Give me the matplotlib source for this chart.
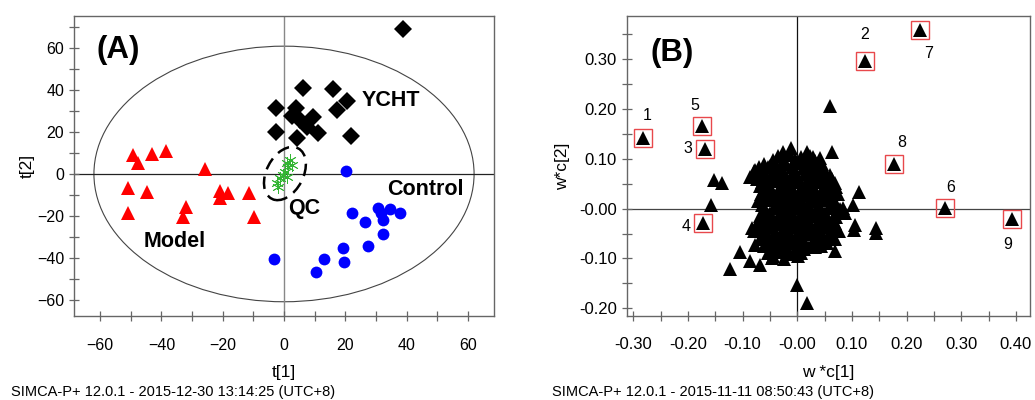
import matplotlib
matplotlib.use('Agg')
import matplotlib.pyplot as plt
from matplotlib.patches import Ellipse
from matplotlib.ticker import MultipleLocator, FuncFormatter

plt.rcParams['font.family'] = ['Liberation Sans', 'DejaVu Sans']

# ---- panel A: scores t[1] / t[2] ----
model_x = [-49.1, -43.1, -38.5, -47.5, -25.8, -50.8, -44.8, -50.8, -32.0, -33.0, -20.9, -18.2, -20.9, -11.4, -9.8]
model_y = [9.1, 9.5, 11.1, 5.1, 2.4, -6.8, -8.4, -18.5, -15.6, -20.7, -8.0, -9.2, -11.6, -8.9, -20.7]

ycht_x = [-2.6, 3.9, 6.1, 15.9, 20.4, 17.4, 9.6, 5.2, -2.6, 4.1, 11.2, 21.7, 2.5, 7.4, 38.9]
ycht_y = [31.7, 31.7, 40.9, 40.4, 34.8, 30.5, 27.1, 25.8, 20.2, 17.0, 19.4, 18.1, 27.5, 22.6, 69.1]

control_x = [20.1, 22.3, 26.4, 30.8, 34.6, 37.8, 32.4, 31.8, 32.4, 27.5, 19.1, 19.6, 13.0, 10.4, -3.3]
control_y = [1.4, -18.8, -22.8, -16.4, -16.9, -18.8, -22.0, -18.8, -28.6, -34.4, -35.2, -41.9, -40.6, -46.6, -40.6]

qc_x = [2.0, 1.4, 0.3, -0.2, -1.3, -2.4, 0.9, 2.5, 1.0, -1.8]
qc_y = [6.7, 3.5, 1.1, -0.5, -2.1, -4.5, 5.1, 4.3, -1.5, -6.0]

# ---- panel B: loadings w*c[1] / w*c[2] ----
marked_id = ['1', '2', '3', '4', '5', '6', '7', '8', '9']
marked_x = [-0.282, 0.124, -0.168, -0.172, -0.175, 0.271, 0.224, 0.177, 0.392]
marked_y = [0.143, 0.297, 0.120, -0.028, 0.166, 0.001, 0.360, 0.089, -0.021]

# scattered variables around the main cloud
outer_x = [0.060, 0.063, -0.152, -0.137, -0.157, 0.112, 0.102, 0.084, 0.106, 0.104, 0.144, 0.144,
           -0.123, -0.105, -0.087, -0.068, -0.077, -0.083, -0.044, 0.002, 0.000, 0.018, 0.032, 0.069,
           0.069, 0.060, -0.087, -0.077, -0.053, -0.038, -0.026, -0.012, 0.017, 0.029, 0.060, 0.069,
           0.035, 0.087, 0.069]
outer_y = [0.206, 0.114, 0.058, 0.051, 0.007, 0.034, 0.007, 0.001, -0.033, -0.043, -0.039, -0.049,
           -0.121, -0.087, -0.106, -0.113, -0.072, -0.039, -0.096, -0.096, -0.154, -0.190, -0.076, -0.086,
           -0.043, 0.038, 0.064, 0.078, 0.084, 0.084, 0.114, 0.121, 0.114, 0.104, 0.068, 0.051,
           0.084, -0.009, -0.029]

# dense core of the loading cloud
core_x = [-0.035, -0.013, 0.006, 0.024, 0.041,
          -0.061, -0.040, -0.021, 0.002, 0.019, 0.046,
          -0.079, -0.062, -0.044, -0.026, -0.004, 0.016, 0.033, 0.051,
          -0.074, -0.056, -0.036, -0.014, 0.004, 0.026, 0.044, 0.064,
          -0.069, -0.051, -0.029, -0.011, 0.011, 0.029, 0.052, 0.071,
          -0.066, -0.044, -0.024, -0.006, 0.016, 0.034, 0.056, 0.074,
          -0.071, -0.049, -0.031, -0.009, 0.009, 0.031, 0.049, 0.069,
          -0.059, -0.041, -0.019, 0.001, 0.021, 0.039, 0.061, 0.079,
          -0.069, -0.051, -0.029, -0.011, 0.011, 0.029, 0.051, 0.071,
          -0.074, -0.054, -0.036, -0.014, 0.006, 0.024, 0.046, 0.064,
          -0.079, -0.059, -0.041, -0.019, 0.001, 0.021, 0.039, 0.059, 0.076,
          -0.069, -0.051, -0.029, -0.009, 0.011, 0.031, 0.049, 0.069,
          -0.061, -0.039, -0.021, 0.001, 0.019, 0.044,
          -0.054, -0.036, -0.014, 0.006,
          -0.046, -0.024]
core_y = [0.105, 0.107, 0.103, 0.106, 0.102,
          0.090, 0.092, 0.089, 0.091, 0.088, 0.090,
          0.075, 0.077, 0.074, 0.076, 0.073, 0.075, 0.077, 0.074,
          0.060, 0.062, 0.059, 0.061, 0.058, 0.060, 0.062, 0.059,
          0.045, 0.047, 0.044, 0.046, 0.043, 0.045, 0.047, 0.044,
          0.030, 0.032, 0.029, 0.031, 0.028, 0.030, 0.032, 0.029,
          0.015, 0.017, 0.014, 0.016, 0.013, 0.015, 0.017, 0.014,
          0.000, 0.002, -0.001, 0.001, -0.002, 0.000, 0.002, -0.001,
          -0.015, -0.013, -0.016, -0.014, -0.017, -0.015, -0.013, -0.016,
          -0.030, -0.028, -0.031, -0.029, -0.032, -0.030, -0.028, -0.031,
          -0.045, -0.043, -0.046, -0.044, -0.047, -0.045, -0.043, -0.046, -0.044,
          -0.060, -0.058, -0.061, -0.059, -0.062, -0.060, -0.058, -0.061,
          -0.075, -0.073, -0.076, -0.074, -0.077, -0.075,
          -0.090, -0.088, -0.091, -0.089,
          -0.100, -0.102]

# second, interleaved layer of the core
fill_x = [-0.045, -0.024, -0.004, 0.014, 0.032,
          -0.070, -0.050, -0.031, -0.010, 0.010, 0.028, 0.042,
          -0.067, -0.046, -0.025, -0.005, 0.014, 0.035, 0.055,
          -0.064, -0.044, -0.025, -0.004, 0.016, 0.035, 0.056,
          -0.057, -0.035, -0.015, 0.005, 0.024, 0.045, 0.064,
          -0.055, -0.035, -0.016, 0.004, 0.025, 0.045, 0.062,
          -0.064, -0.040, -0.020, 0.000, 0.019, 0.040, 0.060,
          -0.050, -0.030, -0.010, 0.010, 0.030, 0.050, 0.070,
          -0.060, -0.040, -0.020, 0.000, 0.020, 0.040, 0.058,
          -0.064, -0.045, -0.025, -0.005, 0.015, 0.035, 0.055,
          -0.060, -0.040, -0.020, 0.000, 0.020, 0.040, 0.060,
          -0.050, -0.030, -0.010, 0.010, 0.030, 0.055,
          -0.045, -0.025, -0.005, 0.012]
fill_y = [0.098, 0.096, 0.099, 0.097, 0.095,
          0.083, 0.085, 0.082, 0.084, 0.081, 0.083, 0.085,
          0.068, 0.066, 0.069, 0.067, 0.070, 0.068, 0.066,
          0.053, 0.055, 0.052, 0.054, 0.051, 0.053, 0.055,
          0.038, 0.036, 0.039, 0.037, 0.040, 0.038, 0.036,
          0.023, 0.025, 0.022, 0.024, 0.021, 0.023, 0.025,
          0.008, 0.006, 0.009, 0.007, 0.010, 0.008, 0.006,
          -0.008, -0.006, -0.009, -0.007, -0.010, -0.008, -0.006,
          -0.023, -0.025, -0.022, -0.024, -0.021, -0.023, -0.025,
          -0.038, -0.036, -0.039, -0.037, -0.040, -0.038, -0.036,
          -0.053, -0.055, -0.052, -0.054, -0.051, -0.053, -0.055,
          -0.068, -0.066, -0.069, -0.067, -0.070, -0.068,
          -0.083, -0.081, -0.084, -0.082]

footer_a = 'SIMCA-P+ 12.0.1 - 2015-12-30 13:14:25 (UTC+8)'
footer_b = 'SIMCA-P+ 12.0.1 - 2015-11-11 08:50:43 (UTC+8)'


def simca_fmt(v, _pos):
    # SIMCA prints the zero tick as "-0.00"
    if abs(v) < 1e-9:
        return '-0.00'
    return f'{v:.2f}'


fig = plt.figure(figsize=(10.35, 4.0), dpi=100)
ax_a = fig.add_axes([0.0715, 0.21, 0.4058, 0.75])
ax_b = fig.add_axes([0.6055, 0.2108, 0.3897, 0.749])

spine_col = '#666666'
for ax in (ax_a, ax_b):
    for sp in ax.spines.values():
        sp.set_color(spine_col)
        sp.set_linewidth(1.0)
    ax.tick_params(which='both', direction='inout', length=7, width=0.9, color=spine_col,
                   top=False, right=False)
    ax.tick_params(axis='x', pad=12)
ax_a.tick_params(labelsize=11.5)
ax_b.tick_params(labelsize=12)

# panel A
ax_a.add_patch(Ellipse((0, 0), 124, 122, fill=False, lw=0.8, color='#444444'))
ax_a.axvline(0, color='#888888', lw=1.0, zorder=1)
ax_a.axhline(0, color='#222222', lw=0.9, zorder=1)
ax_a.plot(model_x, model_y, '^', color='#ff0000', ms=10.5, mew=0, zorder=3)
ax_a.plot(ycht_x, ycht_y, 'D', color='black', ms=9, mew=0, zorder=3)
ax_a.plot(control_x, control_y, 'o', color='#0000ff', ms=8.5, mew=0, zorder=3)
ax_a.plot(qc_x, qc_y, marker=(6, 2, 0), ls='none', color='#33b533', ms=9, mew=0.6, zorder=3)
ax_a.add_patch(Ellipse((0.3, 0.2), 12.5, 26, angle=-14, fill=False, lw=1.8,
                       ls=(0, (5, 3)), color='black', zorder=4))
ax_a.set_xlim(-68.5, 68.5)
ax_a.set_ylim(-67.8, 75.4)
ax_a.xaxis.set_major_locator(MultipleLocator(20))
ax_a.xaxis.set_minor_locator(MultipleLocator(10))
ax_a.yaxis.set_major_locator(MultipleLocator(20))
ax_a.yaxis.set_minor_locator(MultipleLocator(10))
ax_a.set_xlabel('t[1]', fontsize=12.5)
ax_a.set_ylabel('t[2]', fontsize=12.5)
ax_a.xaxis.set_label_coords(0.5, -0.165)
ax_a.yaxis.set_label_coords(-0.093, 0.5)
ax_a.text(-61.3, 59.2, '(A)', fontsize=22.5, fontweight='bold', va='center', ha='left')
ax_a.text(25.3, 35.3, 'YCHT', fontsize=15.5, fontweight='bold', va='center', ha='left')
ax_a.text(33.6, -7.6, 'Control', fontsize=15.5, fontweight='bold', va='center', ha='left')
ax_a.text(1.4, -16.4, 'QC', fontsize=15.5, fontweight='bold', va='center', ha='left')
ax_a.text(-45.9, -32.3, 'Model', fontsize=15.5, fontweight='bold', va='center', ha='left')

# panel B
ax_b.axvline(0, color='#111111', lw=0.9, zorder=1)
ax_b.axhline(0, color='#444444', lw=0.9, zorder=1)
ax_b.plot(core_x, core_y, '^', color='black', ms=10, mew=0, zorder=3)
ax_b.plot(fill_x, fill_y, '^', color='black', ms=10, mew=0, zorder=3)
ax_b.plot(outer_x, outer_y, '^', color='black', ms=10, mew=0, zorder=3)
ax_b.plot(marked_x, marked_y, '^', color='black', ms=10, mew=0, zorder=3)
ax_b.plot(marked_x, marked_y, 's', mfc='none', mec='#e8484c', ms=13, mew=1.0, zorder=4)
label_offsets = [(3, 16), (0, 19), (-12.5, 0), (-12, -3), (-5, 14.5), (4, 15), (6, -17), (5.5, 15.5), (-3, -18.5)]
for lab, x, y, off in zip(marked_id, marked_x, marked_y, label_offsets):
    ax_b.annotate(lab, (x, y), xytext=off, textcoords='offset points',
                  ha='center', va='center', fontsize=11.5)
ax_b.set_xlim(-0.312, 0.4257)
ax_b.set_ylim(-0.215, 0.387)
ax_b.xaxis.set_major_locator(MultipleLocator(0.1))
ax_b.xaxis.set_minor_locator(MultipleLocator(0.05))
ax_b.yaxis.set_major_locator(MultipleLocator(0.1))
ax_b.yaxis.set_minor_locator(MultipleLocator(0.05))
ax_b.xaxis.set_major_formatter(FuncFormatter(simca_fmt))
ax_b.yaxis.set_major_formatter(FuncFormatter(simca_fmt))
ax_b.set_xlabel('w *c[1]', fontsize=12.5)
ax_b.set_ylabel('w*c[2]', fontsize=12.5)
ax_b.xaxis.set_label_coords(0.499, -0.165)
ax_b.yaxis.set_label_coords(-0.14, 0.5)
ax_b.text(-0.269, 0.313, '(B)', fontsize=22.5, fontweight='bold', va='center', ha='left')

fig.text(0.0106, 0.02, footer_a, fontsize=10.5, va='center', ha='left')
fig.text(0.533, 0.02, footer_b, fontsize=10.5, va='center', ha='left')

fig.savefig('out.png', dpi=100)
